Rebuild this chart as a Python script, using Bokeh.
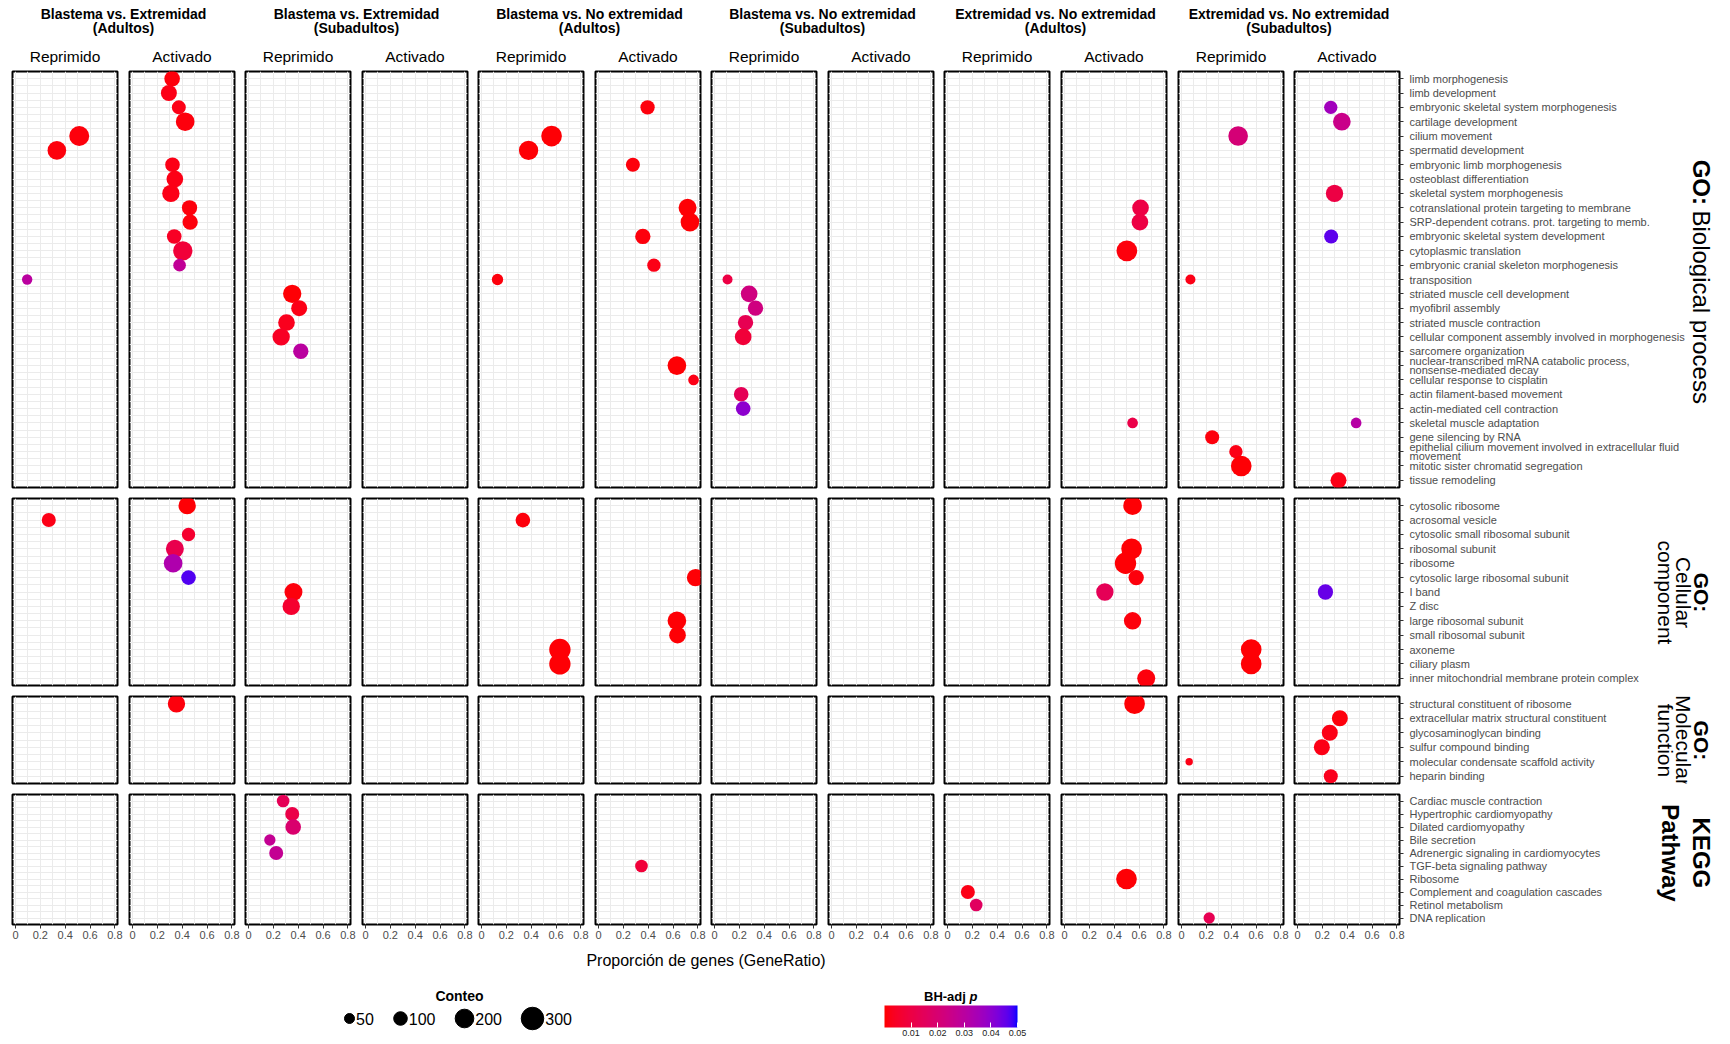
import numpy as np
from bokeh.plotting import figure
from bokeh.models import (ColumnDataSource, FactorRange, Range1d, FixedTicker,
                          LinearColorMapper, ColorBar, CustomJSTickFormatter)
from bokeh.layouts import row, column
from bokeh.embed import file_html
from bokeh.resources import INLINE
from bokeh.core.properties import value

FONT = "Liberation Sans"

# ---------------------------------------------------------------- data
comparisons = [
    "Blastema vs. Extremidad\n(Adultos)",
    "Blastema vs. Extremidad\n(Subadultos)",
    "Blastema vs. No extremidad\n(Adultos)",
    "Blastema vs. No extremidad\n(Subadultos)",
    "Extremidad vs. No extremidad\n(Adultos)",
    "Extremidad vs. No extremidad\n(Subadultos)",
]
directions = ["Reprimido", "Activado"]
# panel index = 2 * comparison index + direction index

bp_terms = [
    "limb morphogenesis", "limb development",
    "embryonic skeletal system morphogenesis", "cartilage development",
    "cilium movement", "spermatid development",
    "embryonic limb morphogenesis", "osteoblast differentiation",
    "skeletal system morphogenesis",
    "cotranslational protein targeting to membrane",
    "SRP-dependent cotrans. prot. targeting to memb.",
    "embryonic skeletal system development", "cytoplasmic translation",
    "embryonic cranial skeleton morphogenesis", "transposition",
    "striated muscle cell development", "myofibril assembly",
    "striated muscle contraction",
    "cellular component assembly involved in morphogenesis",
    "sarcomere organization",
    "nuclear-transcribed mRNA catabolic process,\nnonsense-mediated decay",
    "cellular response to cisplatin", "actin filament-based movement",
    "actin-mediated cell contraction", "skeletal muscle adaptation",
    "gene silencing by RNA",
    "epithelial cilium movement involved in extracellular fluid\nmovement",
    "mitotic sister chromatid segregation", "tissue remodeling",
]
cc_terms = [
    "cytosolic ribosome", "acrosomal vesicle",
    "cytosolic small ribosomal subunit", "ribosomal subunit", "ribosome",
    "cytosolic large ribosomal subunit", "I band", "Z disc",
    "large ribosomal subunit", "small ribosomal subunit", "axoneme",
    "ciliary plasm", "inner mitochondrial membrane protein complex",
]
mf_terms = [
    "structural constituent of ribosome",
    "extracellular matrix structural constituent",
    "glycosaminoglycan binding", "sulfur compound binding",
    "molecular condensate scaffold activity", "heparin binding",
]
kegg_terms = [
    "Cardiac muscle contraction", "Hypertrophic cardiomyopathy",
    "Dilated cardiomyopathy", "Bile secretion",
    "Adrenergic signaling in cardiomyocytes", "TGF-beta signaling pathway",
    "Ribosome", "Complement and coagulation cascades", "Retinol metabolism",
    "DNA replication",
]

# GO: Biological process
bp_panel = [0, 0, 0,
            1, 1, 1, 1, 1, 1, 1, 1, 1, 1, 1, 1,
            2, 2, 2, 2, 2,
            4, 4, 4,
            5, 5, 5, 5, 5, 5, 5, 5,
            6, 6, 6, 6, 6, 6, 6,
            9, 9, 9, 9,
            10, 10, 10, 10, 10,
            11, 11, 11, 11, 11, 11]
bp_term = [4, 5, 14,
           0, 1, 2, 3, 6, 7, 8, 9, 10, 11, 12, 13,
           15, 16, 17, 18, 19,
           4, 5, 14,
           2, 6, 9, 10, 11, 13, 20, 21,
           14, 15, 16, 17, 18, 22, 23,
           9, 10, 12, 24,
           4, 14, 25, 26, 27,
           2, 3, 8, 11, 24, 28]
bp_ratio = [0.513, 0.333, 0.094,
            0.319, 0.293, 0.373, 0.424, 0.322, 0.341, 0.309, 0.459, 0.464, 0.336, 0.405, 0.379,
            0.352, 0.408, 0.306, 0.263, 0.421,
            0.564, 0.379, 0.129,
            0.395, 0.277, 0.717, 0.736, 0.357, 0.446, 0.631, 0.765,
            0.105, 0.279, 0.330, 0.250, 0.231, 0.215, 0.231,
            0.612, 0.607, 0.502, 0.548,
            0.456, 0.072, 0.247, 0.438, 0.481,
            0.268, 0.357, 0.298, 0.271, 0.472, 0.330]
bp_count = [232, 200, 54,
            136, 143, 107, 200, 118, 157, 171, 130, 130, 118, 216, 85,
            192, 143, 157, 171, 130,
            250, 216, 66,
            112, 107, 185, 200, 130, 96, 200, 58,
            50, 157, 130, 130, 157, 118, 118,
            157, 157, 250, 58,
            224, 50, 107, 96, 250,
            96, 178, 171, 107, 58, 143]
bp_padj = [0.001, 0.001, 0.030,
           0.001, 0.002, 0.002, 0.001, 0.002, 0.002, 0.002, 0.001, 0.001, 0.004, 0.008, 0.028,
           0.0005, 0.002, 0.003, 0.004, 0.030,
           0.0005, 0.0005, 0.001,
           0.001, 0.001, 0.0005, 0.0005, 0.001, 0.002, 0.0005, 0.002,
           0.010, 0.023, 0.023, 0.013, 0.008, 0.014, 0.040,
           0.010, 0.010, 0.001, 0.011,
           0.021, 0.002, 0.001, 0.002, 0.0005,
           0.036, 0.025, 0.010, 0.046, 0.031, 0.002]

# GO: Cellular component
cc_panel = [0, 1, 1, 1, 1, 1, 2, 2, 4, 4, 4, 5, 5, 5,
            9, 9, 9, 9, 9, 9, 9, 10, 10, 11]
cc_term = [1, 0, 2, 3, 4, 5, 6, 7, 1, 10, 11, 5, 8, 9,
           0, 3, 4, 5, 6, 8, 12, 10, 11, 6]
cc_ratio = [0.268, 0.440, 0.451, 0.341, 0.327, 0.451, 0.362, 0.344, 0.333, 0.631, 0.631,
            0.781, 0.631, 0.636,
            0.548, 0.540, 0.491, 0.577, 0.325, 0.548, 0.658, 0.561, 0.561, 0.225]
cc_count = [107, 171, 96, 185, 200, 118, 185, 171, 118, 267, 267, 171, 200, 157,
            200, 250, 267, 130, 171, 171, 185, 250, 250, 130]
cc_padj = [0.002, 0.0005, 0.006, 0.012, 0.033, 0.047, 0.001, 0.006, 0.001, 0.0005, 0.0005,
           0.0005, 0.0005, 0.0005,
           0.0005, 0.0005, 0.0005, 0.001, 0.014, 0.001, 0.001, 0.0005, 0.0005, 0.045]

# GO: Molecular function
mf_panel = [1, 9, 10, 11, 11, 11, 11]
mf_term = [0, 0, 4, 1, 2, 3, 5]
mf_ratio = [0.354, 0.564, 0.062, 0.341, 0.260, 0.196, 0.268]
mf_count = [171, 250, 24, 143, 143, 143, 107]
mf_padj = [0.001, 0.0005, 0.002, 0.001, 0.002, 0.002, 0.003]

# KEGG Pathway
kegg_panel = [2, 2, 2, 2, 2, 5, 8, 8, 9, 10]
kegg_term = [0, 1, 2, 3, 4, 5, 7, 8, 6, 9]
kegg_ratio = [0.279, 0.352, 0.360, 0.172, 0.223, 0.346, 0.164, 0.231, 0.499, 0.223]
kegg_count = [85, 107, 136, 66, 107, 85, 107, 85, 250, 66]
kegg_padj = [0.014, 0.011, 0.019, 0.027, 0.027, 0.008, 0.002, 0.016, 0.0005, 0.013]

x_ticks = [0, 0.2, 0.4, 0.6, 0.8]
x_minor = [0.1, 0.3, 0.5, 0.7]
size_breaks = [50, 100, 200, 300]
padj_breaks = [0.01, 0.02, 0.03, 0.04, 0.05]

# ---------------------------------------------------------------- scales
WHITE = np.array([0.95047, 1.0, 1.08883])
M_RGB2XYZ = np.array([[0.4124564, 0.3575761, 0.1804375],
                      [0.2126729, 0.7151522, 0.0721750],
                      [0.0193339, 0.1191920, 0.9503041]])
M_XYZ2RGB = np.linalg.inv(M_RGB2XYZ)


def hex_to_lab(h):
    rgb = np.array([int(h[i:i + 2], 16) for i in (1, 3, 5)], float) / 255
    lin = np.where(rgb <= 0.04045, rgb / 12.92, ((rgb + 0.055) / 1.055) ** 2.4)
    xyz = M_RGB2XYZ @ lin / WHITE
    d = 6 / 29
    f = np.where(xyz > d ** 3, np.cbrt(xyz), xyz / (3 * d * d) + 4 / 29)
    return np.array([116 * f[1] - 16, 500 * (f[0] - f[1]), 200 * (f[1] - f[2])])


def lab_to_hex(lab):
    L, a, b = lab
    fy = (L + 16) / 116
    f = np.array([fy + a / 500, fy, fy - b / 200])
    d = 6 / 29
    xyz = np.where(f > d, f ** 3, 3 * d * d * (f - 4 / 29)) * WHITE
    lin = np.clip(M_XYZ2RGB @ xyz, 0, 1)
    rgb = np.where(lin <= 0.0031308, 12.92 * lin, 1.055 * lin ** (1 / 2.4) - 0.055)
    return "#%02x%02x%02x" % tuple(int(round(v * 255)) for v in np.clip(rgb, 0, 1))


lab_lo, lab_hi = hex_to_lab("#FF0000"), hex_to_lab("#0000FF")
palette = [lab_to_hex(lab_lo + (lab_hi - lab_lo) * t) for t in np.linspace(0, 1, 256)]
mapper = LinearColorMapper(palette=palette, low=0.0, high=0.05)


def dot_size(counts):
    return 1.4 + 1.22 * np.sqrt(np.asarray(counts, dtype=float))


# ---------------------------------------------------------------- layout
PAGE_L, PAGE_R = 0, 1714
FRAME_W = 105
GRID = "#ebebeb"
frame_left = [int(round(12 + 116.55 * k)) for k in range(12)]
frame_right = [l + FRAME_W for l in frame_left]


def canvas(x0, x1, y_top, y_bot):
    p = figure(width=x1 - x0, height=y_bot - y_top,
               x_range=Range1d(x0, x1), y_range=Range1d(y_bot, y_top),
               x_axis_location=None, y_axis_location=None,
               toolbar_location=None, output_backend="svg", min_border=0,
               outline_line_color=None, background_fill_color=None,
               border_fill_color=None)
    p.grid.visible = False
    return p


def txt(p, x, y, s, size, style="normal", align="center", angle=0.0,
        color="black", baseline="middle"):
    p.text(x=[x], y=[y], text=[s], text_font=value(FONT), text_font_size=size,
           text_font_style=style, text_align=align, text_baseline=baseline,
           angle=angle, text_color=color)


def make_panel(k, terms, panel, term, ratio, count, padj, fh, bt, bb, br_last,
               show_x):
    bl = frame_left[k] - (PAGE_L if k == 0 else frame_right[k - 1] + 6)
    br = br_last if k == 11 else 6
    p = figure(frame_width=FRAME_W, frame_height=fh,
               x_range=Range1d(-0.024, 0.821),
               y_range=FactorRange(factors=list(reversed(terms))),
               x_axis_location="below" if show_x else None,
               y_axis_location="right" if k == 11 else None,
               toolbar_location=None, output_backend="svg",
               min_border_left=bl, min_border_right=br,
               min_border_top=bt, min_border_bottom=bb,
               outline_line_color="black", outline_line_width=2,
               background_fill_color="white", border_fill_color="white")
    p.xgrid.ticker = FixedTicker(ticks=x_ticks, minor_ticks=x_minor)
    p.xgrid.grid_line_color = GRID
    p.xgrid.minor_grid_line_color = GRID
    p.ygrid.grid_line_color = GRID
    p.hspan(y=list(range(1, len(terms))), line_color=GRID, line_width=1)
    idx = [i for i, pk in enumerate(panel) if pk == k]
    if idx:
        src = ColumnDataSource(dict(
            term=[terms[term[i]] for i in idx],
            ratio=[ratio[i] for i in idx],
            padj=[padj[i] for i in idx],
            size=dot_size([count[i] for i in idx])))
        p.scatter("ratio", "term", size="size", source=src,
                  fill_color={"field": "padj", "transform": mapper},
                  line_color=None)
    if show_x:
        ax = p.xaxis[0]
        ax.ticker = FixedTicker(ticks=x_ticks)
        ax.formatter = CustomJSTickFormatter(code="return tick.toString();")
        ax.axis_line_color = None
        ax.major_tick_line_color = "#333333"
        ax.major_tick_out = 4
        ax.major_tick_in = 0
        ax.minor_tick_line_color = None
        ax.major_label_standoff = 2
        ax.major_label_text_font = FONT
        ax.major_label_text_font_size = "11px"
        ax.major_label_text_color = "#4d4d4d"
    if k == 11:
        ay = p.yaxis[0]
        ay.axis_line_color = None
        ay.major_tick_line_color = "#333333"
        ay.major_tick_out = 4
        ay.major_tick_in = 0
        ay.major_label_standoff = 6
        ay.major_label_text_font = FONT
        ay.major_label_text_font_size = "11px"
        ay.major_label_text_color = "#4d4d4d"
        ay.major_label_text_line_height = 0.8
    return p


# header
header = canvas(PAGE_L, PAGE_R, 0, 66)
for j, comp in enumerate(comparisons):
    cx = (frame_left[2 * j] + frame_right[2 * j + 1]) / 2
    l1, l2 = comp.split("\n")
    txt(header, cx, 13.5, l1, "14px", "bold")
    txt(header, cx, 27, l2, "14px", "bold")
for k in range(12):
    txt(header, frame_left[k] + FRAME_W / 2, 56, directions[k % 2], "15.5px")

rows_spec = [
    dict(terms=bp_terms, data=(bp_panel, bp_term, bp_ratio, bp_count, bp_padj),
         fh=416, bt=5, bb=5, top=66, strip_left=1689,
         lines=[("GO: ", "Biological process")], size="24px"),
    dict(terms=cc_terms, data=(cc_panel, cc_term, cc_ratio, cc_count, cc_padj),
         fh=187, bt=6, bb=5, top=492, strip_left=1649,
         lines=[("GO:", "bold", 1701), ("Cellular", "normal", 1683),
                ("component", "normal", 1665)], size="21px"),
    dict(terms=mf_terms, data=(mf_panel, mf_term, mf_ratio, mf_count, mf_padj),
         fh=87, bt=6, bb=5, top=690, strip_left=1649,
         lines=[("GO:", "bold", 1701), ("Molecular", "normal", 1683),
                ("function", "normal", 1665)], size="21px"),
    dict(terms=kegg_terms, data=(kegg_panel, kegg_term, kegg_ratio, kegg_count, kegg_padj),
         fh=130, bt=6, bb=22, top=788, strip_left=1649,
         lines=[("KEGG", "bold", 1701), ("Pathway", "bold", 1670)], size="24px"),
]

layout_rows = [header]
for ri, spec in enumerate(rows_spec):
    last = ri == len(rows_spec) - 1
    figs = []
    for k in range(12):
        figs.append(make_panel(k, spec["terms"], *spec["data"], spec["fh"],
                               spec["bt"], spec["bb"],
                               spec["strip_left"] - frame_right[11], last))
    h = spec["bt"] + spec["fh"] + spec["bb"]
    top = spec["top"]
    strip = canvas(spec["strip_left"], PAGE_R, top, top + h)
    cy = top + spec["bt"] + spec["fh"] / 2
    if ri == 0:
        w_bold = 2.167 * 24
        w_reg = 8.058 * 24
        y0 = cy - (w_bold + w_reg) / 2
        txt(strip, 1701, y0, spec["lines"][0][0], "24px", "bold", "left", -np.pi / 2)
        txt(strip, 1701, y0 + w_bold, spec["lines"][0][1], "24px", "normal", "left", -np.pi / 2)
    else:
        for s, style, x in spec["lines"]:
            txt(strip, x, cy, s, spec["size"], style, "center", -np.pi / 2)
    figs.append(strip)
    layout_rows.append(row(*figs))

# footer: axis title and legends
footer = canvas(PAGE_L, PAGE_R, 946, 1040)
txt(footer, (frame_left[0] + frame_right[11]) / 2, 960, "Proporción de genes (GeneRatio)", "16px")
txt(footer, 459, 995, "Conteo", "14px", "bold")
leg_x = np.array([349, 400, 464, 532])
leg_s = dot_size(size_breaks)
footer.scatter(x=leg_x, y=[1018] * 4, size=leg_s, color="black")
footer.text(x=leg_x + leg_s / 2 + 1.5, y=[1018.5] * 4, text=[str(b) for b in size_breaks],
            text_font=value(FONT), text_font_size="16px", text_align="left",
            text_baseline="middle", text_color="black")
txt(footer, 923.5, 996, "BH-adj ", "13px", "bold", "left")
txt(footer, 969, 996, "p", "13px", "bold italic", "left")
cb = ColorBar(color_mapper=mapper, orientation="horizontal", location=(884, 2),
              width=133, height=22, padding=0, title=None,
              ticker=FixedTicker(ticks=padj_breaks),
              major_tick_line_color="white", major_tick_in=5, major_tick_out=0,
              minor_tick_line_color=None, bar_line_color=None,
              border_line_color=None, background_fill_color=None,
              label_standoff=2, major_label_text_font=FONT,
              major_label_text_font_size="9px", major_label_text_color="#1a1a1a")
footer.add_layout(cb, "center")
layout_rows.append(footer)

page = column(*layout_rows)
open("out.html", "w").write(file_html(page, INLINE))
